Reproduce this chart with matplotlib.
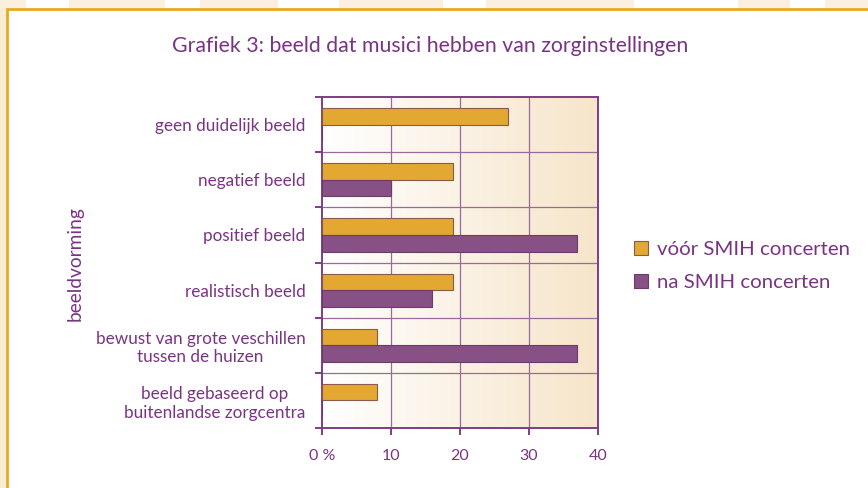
import numpy as np
import matplotlib.pyplot as plt
from matplotlib.patches import Rectangle
from matplotlib.lines import Line2D
from matplotlib.colors import LinearSegmentedColormap

categories = ['geen duidelijk beeld', 'negatief beeld', 'positief beeld',
              'realistisch beeld', 'bewust van grote veschillen\ntussen de huizen',
              'beeld gebaseerd op\nbuitenlandse zorgcentra']
voor = [27, 19, 19, 19, 8, 8]
na = [0, 10, 37, 16, 37, 0]
xticks = [0, 10, 20, 30, 40]
xticklabels = ['0 %', '10', '20', '30', '40']
series_names = ['vóór SMIH concerten', 'na SMIH concerten']

gold = '#E3A832'
purple = '#885185'
txt = '#7A3384'
line = '#7E3D84'

plt.rcParams['font.family'] = ['Lato', 'DejaVu Sans']

fig = plt.figure(figsize=(8.68, 4.88), dpi=100)
fig.patch.set_facecolor('white')

# pale stripes outside the frame + gold frame
for x0, w in [(0, 0.03), (0.08, 0.11), (0.23, 0.09), (0.39, 0.12), (0.56, 0.08),
              (0.63, 0.1), (0.85, 0.06), (0.95, 0.05)]:
    fig.patches.append(Rectangle((x0, 0.983), w, 0.017, transform=fig.transFigure,
                                 facecolor='#FBF0DF', edgecolor='none', zorder=0))
fig.patches.append(Rectangle((0, 0), 0.007, 0.983, transform=fig.transFigure,
                             facecolor='#FAEBD3', edgecolor='none', zorder=0))
fig.lines.append(Line2D([0.0081, 0.0081, 1.0], [0.0, 0.981, 0.981], transform=fig.transFigure,
                        color='#E7A923', lw=2.0, solid_joinstyle='miter', zorder=1))

ax = fig.add_axes([0.371, 0.123, 0.318, 0.678])

n = len(categories)
y = np.arange(n)
h = 0.3
ax.barh(y - h / 2, voor, height=h, color=gold, edgecolor='#8A5A4A', linewidth=0.8,
        zorder=3, label=series_names[0])
ax.barh(y + h / 2, na, height=h, color=purple, edgecolor='#6E3A6A', linewidth=0.8,
        zorder=3, label=series_names[1])

ax.set_xlim(0, 40)
ax.set_ylim(n - 0.5, -0.5)

# gradient background
grad = np.linspace(0, 1, 256).reshape(1, -1)
cmap = LinearSegmentedColormap.from_list('bg', ['#FFFFFF', '#F6E5CA'])
ax.imshow(grad, extent=[0, 40, n - 0.5, -0.5], aspect='auto', cmap=cmap, zorder=0)

for xv in xticks[1:-1]:
    ax.axvline(xv, color='#9A6A9A', lw=0.9, zorder=1)
for yb in np.arange(0.5, n - 0.5, 1):
    ax.axhline(yb, color='#9A6A9A', lw=0.9, zorder=1)

for s in ax.spines.values():
    s.set_color(line)
    s.set_linewidth(1.4)

ax.set_xticks(xticks)
ax.set_xticklabels(xticklabels)
ax.set_yticks(np.arange(-0.5, n, 1))
ax.set_yticklabels([])
ax.set_yticks(y, minor=True)
ax.set_yticklabels(categories, minor=True, multialignment='center')
ax.tick_params(axis='y', which='minor', length=0, pad=12, labelsize=12.3, labelcolor=txt)
ax.tick_params(axis='y', which='major', length=5, width=1.4, color=line)
ax.tick_params(axis='x', length=5, width=1.4, color=line, labelcolor=txt, labelsize=11.5, pad=10)

fig.text(0.087, 0.46, 'beeldvorming', rotation=90, ha='center', va='center',
         color=txt, fontsize=13.8)

fig.text(0.496, 0.905, 'Grafiek 3: beeld dat musici hebben van zorginstellingen',
         ha='center', va='center', color=txt, fontsize=15.3)

fig.legend(loc='center left', bbox_to_anchor=(0.709, 0.455), frameon=False, fontsize=14.7,
           labelcolor=txt, handlelength=0.7, handleheight=0.7, handletextpad=0.45,
           labelspacing=0.8)

fig.savefig('out.png', dpi=100)
